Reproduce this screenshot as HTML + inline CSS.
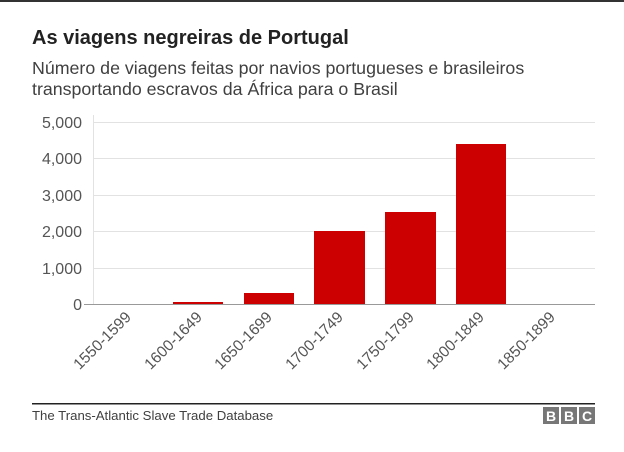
<!DOCTYPE html>
<html><head><meta charset="utf-8"><style>
body{margin:0;background:#fff;width:624px;height:452px;overflow:hidden}
</style></head><body>
<svg width="624" height="452" xmlns="http://www.w3.org/2000/svg" style="display:block;font-family:'Liberation Sans',Arial,sans-serif">
<rect x="0" y="0" width="624" height="2" fill="#333"/>
<text x="32" y="44" font-size="20" font-weight="bold" fill="#222">As viagens negreiras de Portugal</text>
<text x="32" y="74" font-size="17.8" fill="#404040">Número de viagens feitas por navios portugueses e brasileiros</text>
<text x="32" y="95" font-size="17.8" fill="#404040">transportando escravos da África para o Brasil</text>
<g stroke="#e2e2e2" stroke-width="1">
<line x1="93" x2="595" y1="122.5" y2="122.5"/>
<line x1="93" x2="595" y1="158.5" y2="158.5"/>
<line x1="93" x2="595" y1="195.5" y2="195.5"/>
<line x1="93" x2="595" y1="231.5" y2="231.5"/>
<line x1="93" x2="595" y1="268.5" y2="268.5"/>
<line x1="93.5" x2="93.5" y1="115" y2="304"/>
</g>
<g font-size="16" fill="#555" text-anchor="end">
<text x="82" y="128">5,000</text>
<text x="82" y="164">4,000</text>
<text x="82" y="201">3,000</text>
<text x="82" y="237">2,000</text>
<text x="82" y="274">1,000</text>
<text x="82" y="310">0</text>
</g>
<g fill="#cc0000">
<rect x="173" y="302" width="50" height="2"/>
<rect x="244" y="293" width="50" height="11"/>
<rect x="314" y="231" width="51" height="73"/>
<rect x="385" y="212" width="51" height="92"/>
<rect x="456" y="144" width="50" height="160"/>
</g>
<line x1="84" x2="595" y1="304.5" y2="304.5" stroke="#999" stroke-width="1"/>
<g font-size="15.5" fill="#555" text-anchor="end">
<text transform="translate(132,318) rotate(-45)">1550-1599</text>
<text transform="translate(203,318) rotate(-45)">1600-1649</text>
<text transform="translate(273,318) rotate(-45)">1650-1699</text>
<text transform="translate(344,318) rotate(-45)">1700-1749</text>
<text transform="translate(415,318) rotate(-45)">1750-1799</text>
<text transform="translate(485,318) rotate(-45)">1800-1849</text>
<text transform="translate(556,318) rotate(-45)">1850-1899</text>
</g>
<rect x="32" y="403" width="563" height="1.5" fill="#222"/>
<text x="32" y="420" font-size="13.2" fill="#404040">The Trans-Atlantic Slave Trade Database</text>
<g fill="#777">
<rect x="543" y="407" width="16" height="17"/>
<rect x="561" y="407" width="16" height="17"/>
<rect x="579" y="407" width="16" height="17"/>
</g>
<g font-size="14" font-weight="bold" fill="#fff" text-anchor="middle">
<text x="551" y="421">B</text><text x="569" y="421">B</text><text x="587" y="421">C</text>
</g>
</svg>
</body></html>
